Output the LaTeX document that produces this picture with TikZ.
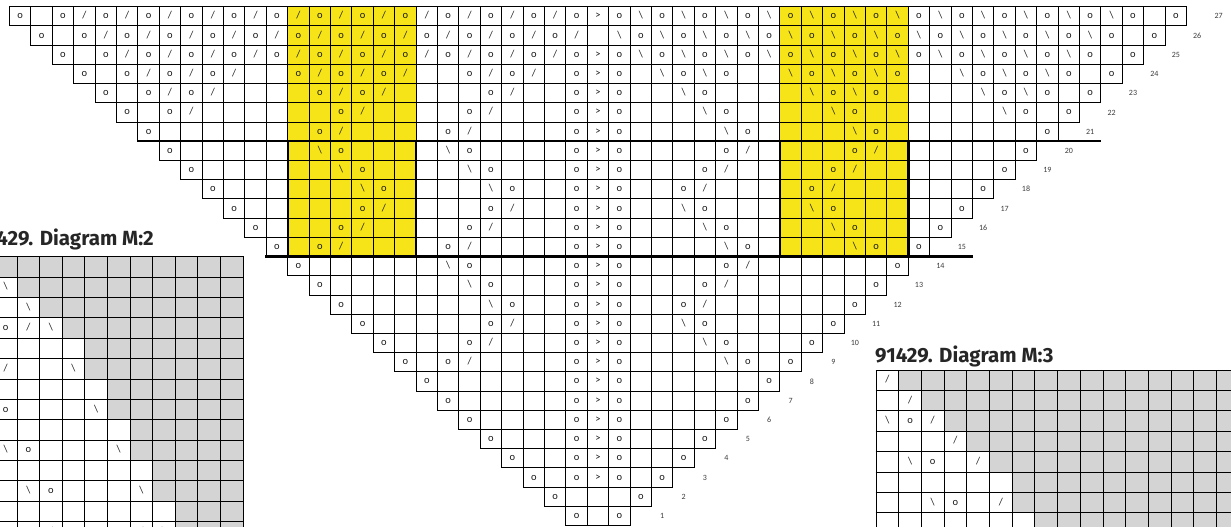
\documentclass[tikz,border=0pt]{standalone}
\usepackage{fontspec}
\setmainfont{Carlito}
\newfontfamily\titlefont{Fira Sans}
\definecolor{chartyellow}{RGB}{246,228,24}
\definecolor{chartgray}{RGB}{212,212,212}
\definecolor{labgray}{RGB}{60,60,60}
\tikzset{
  cellbox/.style={draw=black, line width=1pt},
  gridline/.style={draw=black, line width=1pt},
  sym/.style={inner sep=0pt, text height=7pt, text depth=2pt, font=\fontsize{10.5}{11}\selectfont, text=black!90},
  rowlab/.style={inner sep=0pt, font=\fontsize{8}{8}\selectfont, text=labgray},
  thickrule/.style={line width=2.4pt, line cap=rect},
  chartitle/.style={inner sep=0pt, font=\titlefont\bfseries\fontsize{20.5}{22}\selectfont, text=black!85},
}
% symbols in main chart: #1 row, #2 distance from centre column (mirrored)
\newcommand\chO[2]{%
  \node[sym] (o#1m#2) at ({598-21.4*(#2)},{16.31+19.22*(27-(#1))}) {o};%
  \node[sym] (o#1p#2) at ({598+21.4*(#2)},{16.31+19.22*(27-(#1))}) {o};}
\newcommand\chS[2]{%
  \node[sym] (s#1m#2) at ({598-21.4*(#2)},{16.31+19.22*(27-(#1))}) {/};%
  \node[sym] (s#1p#2) at ({598+21.4*(#2)},{16.31+19.22*(27-(#1))}) {\textbackslash};}
\newcommand\chB[2]{%
  \node[sym] (b#1m#2) at ({598-21.4*(#2)},{16.31+19.22*(27-(#1))}) {\textbackslash};%
  \node[sym] (b#1p#2) at ({598+21.4*(#2)},{16.31+19.22*(27-(#1))}) {/};}
\newcommand\chC[2]{%
  \node[sym] (c#1) at ({598},{16.31+19.22*(27-(#1))}) {#2};}
% small diagrams
\newcommand\mtwo[3]{\node[sym] (mtwo#1x#2) at ({5.7+22.6*(#2)},{266.98+20.37*(#1)}) {#3};}
\newcommand\mthree[3]{\node[sym] (mthree#1x#2) at ({887.35+22.7*(#2)},{380.2+20.4*(#1)}) {#3};}
\begin{document}
\begin{tikzpicture}[x=1pt,y=-1pt]
\useasboundingbox (0,0) rectangle (1231,527);
\clip (0,0) rectangle (1231,527);
\fill[white] (0,0) rectangle (1231,527);
% yellow blocks
\fill[chartyellow] (287.7,6.7) rectangle (416.1,256.6);
\fill[chartyellow] (779.9,6.7) rectangle (908.3,256.6);
% main grid
\foreach \n in {1,...,27} {
  \pgfmathtruncatemacro\mn{-\n}
  \foreach \c in {\mn,...,\n} {
    \draw[cellbox] ({598+21.4*\c-10.7},{6.7+19.22*(27-\n)}) rectangle ++(21.4,19.22);
  }
}
% thick rules
\draw[thickrule] (138,141.2) -- (1100,141.2);
\draw[thickrule] (266,256.6) -- (972,256.6);
\foreach \xx in {287.7,416.1,779.9,908.3} {
  \draw[thickrule] (\xx,141.2) -- (\xx,256.6);
}
% row labels
\foreach \n in {1,...,27} {
  \node[rowlab] (lab\n) at ({598+21.4*(\n+2)},{16.31+19.22*(27-\n)}) {\n};
}
% row 27
\chO{27}{27}\chO{27}{25}
\foreach \d in {2,4,...,24} {\chS{27}{\d}}
\foreach \d in {1,3,...,23} {\chO{27}{\d}}
% row 26
\chO{26}{26}
\foreach \d in {2,4,...,24} {\chO{26}{\d}}
\foreach \d in {1,3,...,23} {\chS{26}{\d}}
% row 25
\chO{25}{25}
\foreach \d in {2,4,...,22} {\chS{25}{\d}}
\foreach \d in {1,3,...,23} {\chO{25}{\d}}
% row 24
\foreach \d in {24,22,20,18,14,12,10,6,4,1} {\chO{24}{\d}}
\foreach \d in {21,19,17,13,11,9,5,3} {\chS{24}{\d}}
% row 23
\foreach \d in {23,21,19,13,11,5,1} {\chO{23}{\d}}
\foreach \d in {20,18,12,10,4} {\chS{23}{\d}}
% row 22
\foreach \d in {22,20,12,6,1} {\chO{22}{\d}}
\foreach \d in {19,11,5} {\chS{22}{\d}}
% row 21
\foreach \d in {21,13,7,1} {\chO{21}{\d}}
\foreach \d in {12,6} {\chS{21}{\d}}
% row 20
\foreach \d in {20,12,6,1} {\chO{20}{\d}}
\foreach \d in {13,7} {\chB{20}{\d}}
% row 19
\foreach \d in {19,11,5,1} {\chO{19}{\d}}
\foreach \d in {12,6} {\chB{19}{\d}}
% row 18
\foreach \d in {18,10,4,1} {\chO{18}{\d}}
\foreach \d in {11,5} {\chB{18}{\d}}
% row 17
\foreach \d in {17,11,5,1} {\chO{17}{\d}}
\foreach \d in {10,4} {\chS{17}{\d}}
% row 16
\foreach \d in {16,12,6,1} {\chO{16}{\d}}
\foreach \d in {11,5} {\chS{16}{\d}}
% row 15
\foreach \d in {15,13,7,1} {\chO{15}{\d}}
\foreach \d in {12,6} {\chS{15}{\d}}
% row 14
\foreach \d in {14,6,1} {\chO{14}{\d}}
\chB{14}{7}
% row 13
\foreach \d in {13,5,1} {\chO{13}{\d}}
\chB{13}{6}
% row 12
\foreach \d in {12,4,1} {\chO{12}{\d}}
\chB{12}{5}
% row 11
\foreach \d in {11,5,1} {\chO{11}{\d}}
\chS{11}{4}
% row 10
\foreach \d in {10,6,1} {\chO{10}{\d}}
\chS{10}{5}
% row 9
\foreach \d in {9,7,1} {\chO{9}{\d}}
\chS{9}{6}
% rows 8 to 3
\foreach \n in {3,...,8} {\chO{\n}{\n}\chO{\n}{1}}
\chO{2}{2}
\chO{1}{1}
% centre column
\foreach \n in {3,...,25,27} {\chC{\n}{>}}
% ---------- Diagram M:2 ----------
\foreach \r/\w in {0/0,1/1,2/2,3/3,4/4,5/4,6/5,7/5,8/6,9/6,10/7,11/7,12/8,13/8} {
  \fill[chartgray] ({-5.6+22.6*\w},{256.8+20.37*\r}) rectangle (243,{256.8+20.37*(\r+1)});
}
\foreach \k in {0,...,11} {
  \draw[gridline] ({-5.6+22.6*\k},256.8) -- ({-5.6+22.6*\k},545);
}
\foreach \r in {0,...,14} {
  \draw[gridline] (-6,{256.8+20.37*\r}) -- (243.5,{256.8+20.37*\r});
}
\mtwo{1}{0}{\textbackslash}
\mtwo{2}{1}{\textbackslash}
\mtwo{3}{0}{o}\mtwo{3}{1}{/}\mtwo{3}{2}{\textbackslash}
\mtwo{5}{0}{/}\mtwo{5}{3}{\textbackslash}
\mtwo{7}{0}{o}\mtwo{7}{4}{\textbackslash}
\mtwo{9}{0}{\textbackslash}\mtwo{9}{1}{o}\mtwo{9}{5}{\textbackslash}
\mtwo{11}{1}{\textbackslash}\mtwo{11}{2}{o}\mtwo{11}{6}{\textbackslash}
\mtwo{13}{2}{/}\mtwo{13}{6}{/}\mtwo{13}{7}{\textbackslash}
% ---------- Diagram M:3 ----------
\foreach \r/\w in {0/1,1/2,2/3,3/4,4/5,5/6,6/6,7/7} {
  \fill[chartgray] ({876+22.7*\w},{370+20.4*\r}) rectangle (1240,{370+20.4*(\r+1)});
}
\foreach \k in {0,...,16} {
  \draw[gridline] ({876+22.7*\k},370) -- ({876+22.7*\k},540);
}
\foreach \r in {0,...,8} {
  \draw[gridline] (875.5,{370+20.4*\r}) -- (1240,{370+20.4*\r});
}
\mthree{0}{0}{/}
\mthree{1}{1}{/}
\mthree{2}{0}{\textbackslash}\mthree{2}{1}{o}\mthree{2}{2}{/}
\mthree{3}{3}{/}
\mthree{4}{1}{\textbackslash}\mthree{4}{2}{o}\mthree{4}{4}{/}
\mthree{6}{2}{\textbackslash}\mthree{6}{3}{o}\mthree{6}{5}{/}
% titles
\node[chartitle, anchor=base east] (titletwo) at (154,245) {91429. Diagram M:2};
\node[chartitle, anchor=base west] (titlethree) at (875,362.5) {91429. Diagram M:3};
\end{tikzpicture}
\end{document}
